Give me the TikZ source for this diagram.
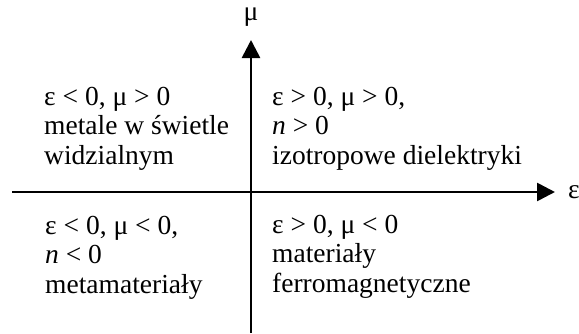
\documentclass[tikz,border=0pt]{standalone}
\usepackage{fontspec}
\setmainfont{Liberation Serif}
\usetikzlibrary{positioning,arrows.meta}

\begin{document}
\begin{tikzpicture}[
        x=1pt, y=-1pt,
        font=\fontsize{27.5pt}{29.5pt}\selectfont,
        >={Triangle[length=18pt, width=18pt]},
        axis/.style  ={->, line width=2.7pt},
        quad/.style  ={anchor=base west, align=left, inner sep=0pt},
        albl/.style  ={inner sep=0pt},
    ]
    \useasboundingbox (0,0) rectangle (579,333);

    % ===================== Axes =====================
    \coordinate (xmin) at (12,192);
    \coordinate (xmax) at (555,192);
    \coordinate (ymin) at (251,333);
    \coordinate (ymax) at (251,40);

    \draw[axis] (xmin) -- (xmax);
    \draw[axis] (ymin) -- (ymax);
    \node[albl, right=13pt of xmax] (eps) {ε};
    \node[albl, above=13pt of ymax] (mu) {μ};

    % ===================== Quadrants =====================
    % (base anchor sits on the last line)
    \node[quad] (q2) at (44,164)
        {ε < 0, μ > 0\\metale w świetle\\widzialnym};
    \node[quad] (q1) at (272,164)
        {ε > 0, μ > 0,\\\textit{n} > 0\\izotropowe dielektryki};
    \node[quad] (q3) at (45,293)
        {ε < 0, μ < 0,\\\textit{n} < 0\\metamateriały};
    \node[quad] (q4) at (272,292)
        {ε > 0, μ < 0\\materiały\\ferromagnetyczne};
\end{tikzpicture}
\end{document}
